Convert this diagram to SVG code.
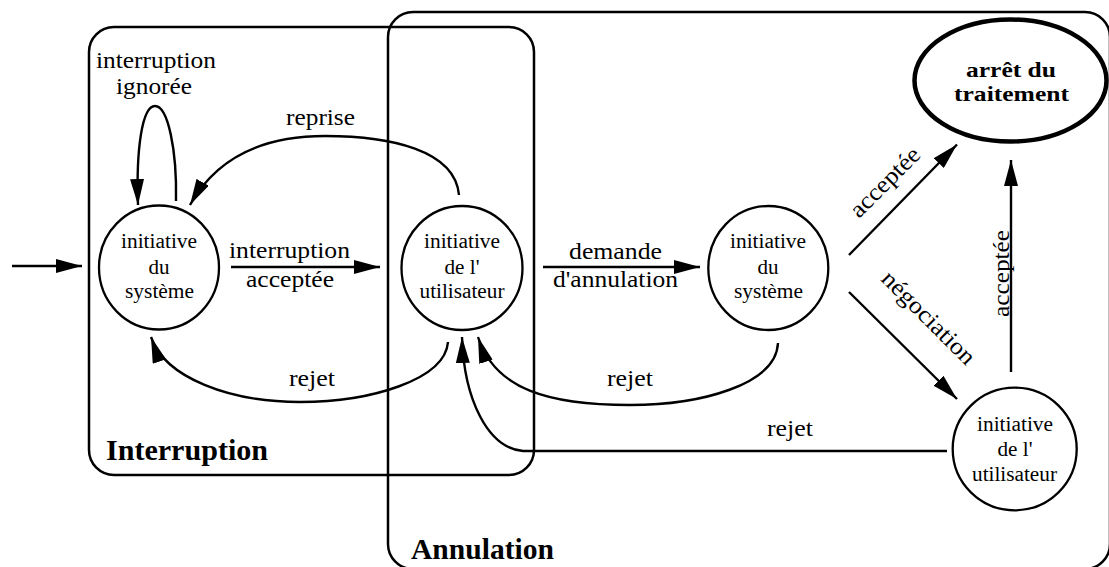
<svg xmlns="http://www.w3.org/2000/svg" width="1109" height="567" viewBox="0 0 1109 567">
  <style>
    .box { fill: none; stroke: #000; stroke-width: 2.5; }
    .node { fill: #fff; stroke: #000; stroke-width: 2.3; }
    .final { fill: #fff; stroke: #000; stroke-width: 4.5; }
    .edge { fill: none; stroke: #000; stroke-width: 2.4; }
    .arrow { marker-end: url(#head); }
    .lbl { font-family: "Liberation Serif", "Times New Roman", serif; font-size: 24px; fill: #000; }
    .ntx { font-family: "Liberation Serif", "Times New Roman", serif; font-size: 20.5px; fill: #000; }
    .bold { font-family: "Liberation Serif", "Times New Roman", serif; font-weight: bold; fill: #000; }
  </style>
  <defs>
    <marker id="head" viewBox="0 0 26 14" refX="26" refY="7" markerWidth="26" markerHeight="14" markerUnits="userSpaceOnUse" orient="auto">
      <path d="M0,0 L26,7 L0,14 Z" fill="#000"/>
    </marker>
  </defs>

  <!-- grouping frames -->
  <g id="frame-interruption">
    <rect class="box" x="89" y="27" width="445" height="448" rx="25" ry="25"/>
    <text class="bold" x="106" y="460" font-size="30" textLength="162" lengthAdjust="spacingAndGlyphs">Interruption</text>
  </g>
  <g id="frame-annulation">
    <rect class="box" x="388" y="12" width="722" height="557" rx="25" ry="25"/>
    <text class="bold" x="411" y="559" font-size="30" textLength="143" lengthAdjust="spacingAndGlyphs">Annulation</text>
  </g>

  <!-- transitions -->
  <g id="connectors">
    <path class="edge arrow" d="M12,266 L82,266"/>
    <path class="edge arrow" d="M176,201 C177,150 168,106 155,106 C142,106 136,150 138,205"/>
    <path class="edge arrow" d="M459,195 C455,150 390,136 325,136 C260,136 215,160 190,205"/>
    <path class="edge arrow" d="M231,267 L380,267"/>
    <path class="edge arrow" d="M448,342 C445,380 370,402 300,402 C230,402 165,378 151,337"/>
    <path class="edge arrow" d="M543,267 L700,267"/>
    <path class="edge arrow" d="M778,343 C776,385 700,405 630,405 C550,405 495,390 478,337"/>
    <path class="edge arrow" d="M947,451 L523,451 C488,448 464,400 462,337"/>
    <path class="edge arrow" d="M849,255 L957,144.5"/>
    <path class="edge arrow" d="M849,292 L957,399"/>
    <path class="edge arrow" d="M1011,372 L1011,160"/>

    <text class="lbl" x="96" y="68" textLength="120" lengthAdjust="spacingAndGlyphs">interruption</text>
    <text class="lbl" x="116" y="94" textLength="76" lengthAdjust="spacingAndGlyphs">ignorée</text>
    <text class="lbl" x="286" y="125" textLength="69" lengthAdjust="spacingAndGlyphs">reprise</text>
    <text class="lbl" x="229" y="258" textLength="121" lengthAdjust="spacingAndGlyphs">interruption</text>
    <text class="lbl" x="246" y="287" textLength="88" lengthAdjust="spacingAndGlyphs">acceptée</text>
    <text class="lbl" x="569" y="259" textLength="93" lengthAdjust="spacingAndGlyphs">demande</text>
    <text class="lbl" x="553" y="287" textLength="125" lengthAdjust="spacingAndGlyphs">d'annulation</text>
    <text class="lbl" x="289" y="386" textLength="46" lengthAdjust="spacingAndGlyphs">rejet</text>
    <text class="lbl" x="607" y="386" textLength="46" lengthAdjust="spacingAndGlyphs">rejet</text>
    <text class="lbl" x="767" y="436" textLength="46" lengthAdjust="spacingAndGlyphs">rejet</text>
    <text class="lbl" x="859" y="219" transform="rotate(-45 859 219)" textLength="89" lengthAdjust="spacingAndGlyphs">acceptée</text>
    <text class="lbl" x="880" y="280" transform="rotate(45 880 280)" textLength="122" lengthAdjust="spacingAndGlyphs">négociation</text>
    <text class="lbl" x="1009" y="317" transform="rotate(-90 1009 317)" textLength="87" lengthAdjust="spacingAndGlyphs">acceptée</text>
  </g>

  <!-- states -->
  <g id="state-systeme-1">
    <ellipse class="node" cx="159" cy="267.5" rx="60" ry="62"/>
    <text class="ntx" x="121" y="248" textLength="76" lengthAdjust="spacingAndGlyphs">initiative</text>
    <text class="ntx" x="148.5" y="274" textLength="21" lengthAdjust="spacingAndGlyphs">du</text>
    <text class="ntx" x="125" y="298" textLength="69" lengthAdjust="spacingAndGlyphs">système</text>
  </g>
  <g id="state-utilisateur-1">
    <ellipse class="node" cx="462" cy="268" rx="60.5" ry="62"/>
    <text class="ntx" x="424" y="248" textLength="76" lengthAdjust="spacingAndGlyphs">initiative</text>
    <text class="ntx" x="444.5" y="274" textLength="35" lengthAdjust="spacingAndGlyphs">de l'</text>
    <text class="ntx" x="419.5" y="298" textLength="85" lengthAdjust="spacingAndGlyphs">utilisateur</text>
  </g>
  <g id="state-systeme-2">
    <ellipse class="node" cx="768.3" cy="268" rx="60" ry="62"/>
    <text class="ntx" x="730" y="248" textLength="76" lengthAdjust="spacingAndGlyphs">initiative</text>
    <text class="ntx" x="757.5" y="274" textLength="21" lengthAdjust="spacingAndGlyphs">du</text>
    <text class="ntx" x="734" y="298" textLength="69" lengthAdjust="spacingAndGlyphs">système</text>
  </g>
  <g id="state-utilisateur-2">
    <ellipse class="node" cx="1014.7" cy="449" rx="62" ry="61.3"/>
    <text class="ntx" x="977" y="431" textLength="76" lengthAdjust="spacingAndGlyphs">initiative</text>
    <text class="ntx" x="997.5" y="456" textLength="35" lengthAdjust="spacingAndGlyphs">de l'</text>
    <text class="ntx" x="972" y="481" textLength="85" lengthAdjust="spacingAndGlyphs">utilisateur</text>
  </g>
  <g id="state-arret">
    <ellipse class="final" cx="1010.5" cy="80.5" rx="96" ry="61"/>
    <text class="bold" x="966" y="76.5" font-size="22" textLength="90" lengthAdjust="spacingAndGlyphs">arrêt du</text>
    <text class="bold" x="954" y="101" font-size="22" textLength="115" lengthAdjust="spacingAndGlyphs">traitement</text>
  </g>
</svg>
